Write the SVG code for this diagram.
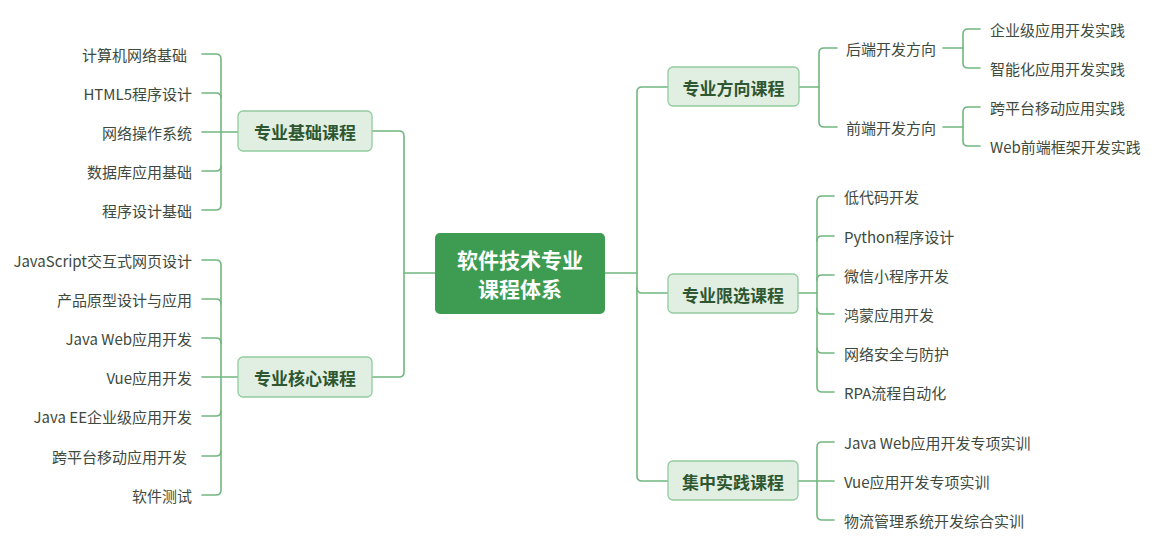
<svg xmlns="http://www.w3.org/2000/svg" width="1158" height="545" viewBox="0 0 1158 545">
<style>
.ln{fill:none;stroke:#72B77F;stroke-width:1.6;stroke-linecap:round}
.box{fill:#E0EFE1;stroke:#92CC9E;stroke-width:1.3}
.root{fill:#3E9B52}
.bt{font-family:"Noto Sans CJK SC","Noto Sans",sans-serif;font-size:17px;font-weight:bold;fill:#2E5631;text-anchor:middle;dominant-baseline:central}
.rt{font-family:"Noto Sans CJK SC","Noto Sans",sans-serif;font-size:21px;font-weight:bold;fill:#ffffff;text-anchor:middle;dominant-baseline:central}
.lf{font-family:"Noto Sans CJK SC","Noto Sans",sans-serif;font-size:15px;fill:#3E4A3E;dominant-baseline:central}
.l{text-anchor:end}
</style>
<g id="connectors">
<path class="ln" d="M435,273 H404"/>
<path class="ln" d="M372,131 H399 Q404,131 404,136 V372 Q404,377 399,377 H372"/>
<path class="ln" d="M605,273 H637"/>
<path class="ln" d="M668,87 H642 Q637,87 637,92 V476 Q637,481 642,481 H668"/>
<path class="ln" d="M637,288 Q637,293 642,293 H668"/>
<!-- 专业基础 leaves -->
<path class="ln" d="M202,54 H216 Q221,54 221,59 V205 Q221,210 216,210 H202"/>
<path class="ln" d="M202,93 H216 Q221,93 221,98"/>
<path class="ln" d="M202,132 H238"/>
<path class="ln" d="M202,171 H216 Q221,171 221,166"/>
<!-- 专业核心 leaves -->
<path class="ln" d="M202,260 H216 Q221,260 221,265 V490 Q221,495 216,495 H202"/>
<path class="ln" d="M202,299 H216 Q221,299 221,304"/>
<path class="ln" d="M202,338 H216 Q221,338 221,343"/>
<path class="ln" d="M202,377 H238"/>
<path class="ln" d="M202,416 H216 Q221,416 221,411"/>
<path class="ln" d="M202,456 H216 Q221,456 221,451"/>
<!-- 专业方向 -->
<path class="ln" d="M799,87 H819"/>
<path class="ln" d="M837,48 H824 Q819,48 819,53 V122 Q819,127 824,127 H837"/>
<path class="ln" d="M943,48 H963"/>
<path class="ln" d="M980,29 H968 Q963,29 963,34 V63 Q963,68 968,68 H980"/>
<path class="ln" d="M943,127 H963"/>
<path class="ln" d="M980,107 H968 Q963,107 963,112 V141 Q963,146 968,146 H980"/>
<!-- 专业限选 -->
<path class="ln" d="M798,293 H817"/>
<path class="ln" d="M834,196 H822 Q817,196 817,201 V387 Q817,392 822,392 H834"/>
<path class="ln" d="M834,236 H822 Q817,236 817,241"/>
<path class="ln" d="M834,275 H822 Q817,275 817,280"/>
<path class="ln" d="M834,314 H822 Q817,314 817,309"/>
<path class="ln" d="M834,353 H822 Q817,353 817,348"/>
<!-- 集中实践 -->
<path class="ln" d="M798,481 H834"/>
<path class="ln" d="M834,442 H822 Q817,442 817,447 V515 Q817,520 822,520 H834"/>
</g>
<g id="root">
<rect class="root" x="435" y="233" width="170" height="81" rx="5"/>
<text class="rt" x="520" y="259">软件技术专业</text>
<text class="rt" x="520" y="288">课程体系</text>
</g>
<g id="jichu">
<rect class="box" x="238" y="111" width="134" height="40" rx="5"/>
<text class="bt" x="305" y="131">专业基础课程</text>
</g>
<g id="hexin">
<rect class="box" x="238" y="357" width="134" height="40" rx="5"/>
<text class="bt" x="305" y="377">专业核心课程</text>
</g>
<g id="fangxiang">
<rect class="box" x="668" y="67" width="131" height="39" rx="5"/>
<text class="bt" x="733.5" y="87">专业方向课程</text>
</g>
<g id="xianxuan">
<rect class="box" x="668" y="274" width="130" height="39" rx="5"/>
<text class="bt" x="733" y="294">专业限选课程</text>
</g>
<g id="shijian">
<rect class="box" x="668" y="461" width="130" height="39" rx="5"/>
<text class="bt" x="733" y="481">集中实践课程</text>
</g>
<g id="jichu-leaves">
<text class="lf l" x="187" y="54">计算机网络基础</text>
<text class="lf l" x="192" y="93">HTML5程序设计</text>
<text class="lf l" x="192" y="132">网络操作系统</text>
<text class="lf l" x="192" y="171">数据库应用基础</text>
<text class="lf l" x="192" y="210">程序设计基础</text>
</g>
<g id="hexin-leaves">
<text class="lf l" x="192" y="260">JavaScript交互式网页设计</text>
<text class="lf l" x="192" y="299">产品原型设计与应用</text>
<text class="lf l" x="192" y="338">Java Web应用开发</text>
<text class="lf l" x="192" y="377">Vue应用开发</text>
<text class="lf l" x="192" y="416">Java EE企业级应用开发</text>
<text class="lf l" x="187" y="456">跨平台移动应用开发</text>
<text class="lf l" x="192" y="495">软件测试</text>
</g>
<g id="houduan">
<text class="lf" x="846" y="48">后端开发方向</text>
<text class="lf" x="990" y="29">企业级应用开发实践</text>
<text class="lf" x="990" y="68">智能化应用开发实践</text>
</g>
<g id="qianduan">
<text class="lf" x="846" y="127">前端开发方向</text>
<text class="lf" x="990" y="107">跨平台移动应用实践</text>
<text class="lf" x="990" y="146">Web前端框架开发实践</text>
</g>
<g id="xianxuan-leaves">
<text class="lf" x="844" y="196">低代码开发</text>
<text class="lf" x="844" y="236">Python程序设计</text>
<text class="lf" x="844" y="275">微信小程序开发</text>
<text class="lf" x="844" y="314">鸿蒙应用开发</text>
<text class="lf" x="844" y="353">网络安全与防护</text>
<text class="lf" x="844" y="392">RPA流程自动化</text>
</g>
<g id="shijian-leaves">
<text class="lf" x="844" y="442">Java Web应用开发专项实训</text>
<text class="lf" x="844" y="481">Vue应用开发专项实训</text>
<text class="lf" x="844" y="520">物流管理系统开发综合实训</text>
</g>
</svg>
